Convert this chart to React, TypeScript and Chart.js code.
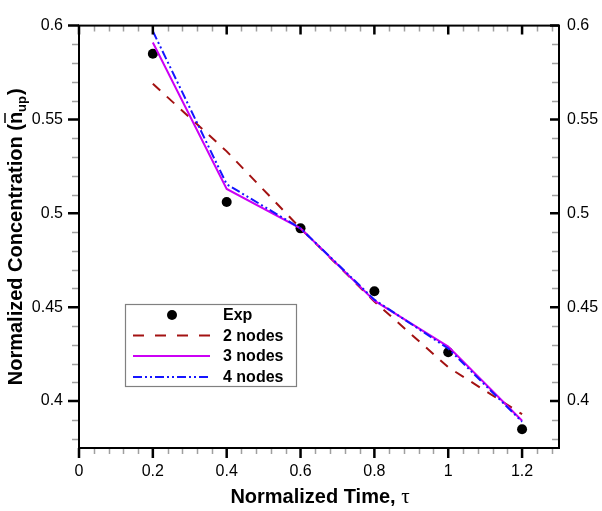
import React, { useEffect, useRef } from "react";
import { Chart, registerables } from "chart.js";

Chart.register(...registerables);

const timePoints = [0.2, 0.4, 0.6, 0.8, 1.0, 1.2];
const expValues = [0.585, 0.506, 0.492, 0.4585, 0.426, 0.385];
const nodes2Values = [0.569, 0.533, 0.492, 0.453, 0.418, 0.393];
const nodes3Values = [0.591, 0.513, 0.492, 0.4535, 0.429, 0.3895];
const nodes4Values = [0.597, 0.5155, 0.492, 0.454, 0.428, 0.389];

const seriesLabels = ["Exp", "2 nodes", "3 nodes", "4 nodes"];

const xTickValues = [0, 0.2, 0.4, 0.6, 0.8, 1, 1.2];
const xTickLabels = ["0", "0.2", "0.4", "0.6", "0.8", "1", "1.2"];
const yTickValues = [0.4, 0.45, 0.5, 0.55, 0.6];
const yTickLabels = ["0.4", "0.45", "0.5", "0.55", "0.6"];
const xMinorStep = 0.04;
const yMinorStep = 0.01;

const xTitle = "Normalized Time, ";
const xTitleSymbol = "τ";
const yTitleMain = "Normalized Concentration (";
const yTitleVar = "n";
const yTitleSub = "up";
const yTitleEnd = ")";

const FONT = "'Liberation Sans', Arial, Helvetica, sans-serif";

const toPoints = (vals: number[]) => timePoints.map((t, i) => ({ x: t, y: vals[i] }));

const decorPlugin = {
  id: "decor",
  afterDatasetsDraw(chart: any) {
    const ctx = chart.ctx as CanvasRenderingContext2D;
    const { left, right, top, bottom } = chart.chartArea;
    const xs = chart.scales.x;
    const ys = chart.scales.y;
    ctx.save();

    // minor ticks
    ctx.strokeStyle = "#a0a0a0";
    ctx.lineWidth = 1.5;
    const xMax = xs.max;
    for (let k = 1; k * xMinorStep < xMax - 1e-9; k++) {
      const v = k * xMinorStep;
      if (xTickValues.some((t) => Math.abs(t - v) < 1e-6)) continue;
      const px = Math.round(xs.getPixelForValue(v)) + 0.5;
      ctx.beginPath();
      ctx.moveTo(px, bottom);
      ctx.lineTo(px, bottom + 6);
      ctx.moveTo(px, top);
      ctx.lineTo(px, top + 6);
      ctx.stroke();
    }
    for (let k = 0; ; k++) {
      const v = Math.ceil(ys.min / yMinorStep) * yMinorStep + k * yMinorStep;
      if (v > ys.max + 1e-9) break;
      if (yTickValues.some((t) => Math.abs(t - v) < 1e-6)) continue;
      const py = Math.round(ys.getPixelForValue(v)) + 0.5;
      ctx.beginPath();
      ctx.moveTo(left, py);
      ctx.lineTo(left - 7, py);
      ctx.moveTo(right, py);
      ctx.lineTo(right - 7, py);
      ctx.stroke();
    }

    // major ticks
    ctx.strokeStyle = "#000";
    ctx.lineWidth = 2.5;
    xTickValues.forEach((v) => {
      const px = xs.getPixelForValue(v);
      ctx.beginPath();
      ctx.moveTo(px, bottom);
      ctx.lineTo(px, bottom + 10);
      ctx.moveTo(px, top);
      ctx.lineTo(px, top + 9);
      ctx.stroke();
    });
    yTickValues.forEach((v) => {
      const py = ys.getPixelForValue(v);
      ctx.beginPath();
      ctx.moveTo(left, py);
      ctx.lineTo(left - 11, py);
      ctx.moveTo(right, py);
      ctx.lineTo(right - 9, py);
      ctx.stroke();
    });

    // frame
    ctx.lineWidth = 2;
    ctx.strokeRect(left, top, right - left, bottom - top);

    // legend
    const lx = 125, ly = 304, lw = 171, lh = 82;
    ctx.fillStyle = "#fff";
    ctx.fillRect(lx, ly, lw, lh);
    ctx.strokeStyle = "#808080";
    ctx.lineWidth = 1.2;
    ctx.strokeRect(lx + 0.5, ly + 0.5, lw, lh);
    const rowY = [315, 335.5, 356, 377];
    chart.data.datasets.forEach((ds: any, i: number) => {
      const y = rowY[i];
      if (ds.showLine === false) {
        ctx.fillStyle = ds.backgroundColor;
        ctx.beginPath();
        ctx.arc(172, y, ds.pointRadius, 0, Math.PI * 2);
        ctx.fill();
      } else {
        ctx.strokeStyle = ds.borderColor;
        ctx.lineWidth = ds.borderWidth;
        ctx.setLineDash(ds.legendDash || ds.borderDash || []);
        ctx.beginPath();
        ctx.moveTo(133, y);
        ctx.lineTo(210, y);
        ctx.stroke();
        ctx.setLineDash([]);
      }
      ctx.fillStyle = "#000";
      ctx.font = `bold 16px ${FONT}`;
      ctx.textBaseline = "middle";
      ctx.textAlign = "left";
      ctx.fillText(ds.label, 223, y + 1);
    });

    ctx.restore();
  },
  afterDraw(chart: any) {
    const ctx = chart.ctx as CanvasRenderingContext2D;
    const { left, right, top, bottom } = chart.chartArea;
    ctx.save();
    ctx.fillStyle = "#000";
    ctx.textBaseline = "alphabetic";
    ctx.textAlign = "left";

    // x title
    const boldF = `bold 20px ${FONT}`;
    const symF = `21px 'Liberation Serif', 'Times New Roman', serif`;
    ctx.font = boldF;
    const w1 = ctx.measureText(xTitle).width;
    ctx.font = symF;
    const w2 = ctx.measureText(xTitleSymbol).width;
    const cx = (left + right) / 2 + 1;
    let sx = cx - (w1 + w2) / 2;
    ctx.font = boldF;
    ctx.fillText(xTitle, sx, 503);
    ctx.font = symF;
    ctx.fillText(xTitleSymbol, sx + w1, 503);

    // y title (rotated)
    const subF = `bold 13px ${FONT}`;
    ctx.font = boldF;
    const a = ctx.measureText(yTitleMain).width;
    const b = ctx.measureText(yTitleVar).width;
    ctx.font = subF;
    const c = ctx.measureText(yTitleSub).width;
    ctx.font = boldF;
    const d = ctx.measureText(yTitleEnd).width;
    const total = a + b + c + 1 + d;
    ctx.translate(22, (top + bottom) / 2);
    ctx.rotate(-Math.PI / 2);
    let p = -total / 2;
    ctx.fillText(yTitleMain, p, 0);
    p += a;
    ctx.fillText(yTitleVar, p, 0);
    ctx.lineWidth = 1.5;
    ctx.strokeStyle = "#000";
    ctx.beginPath();
    ctx.moveTo(p + 1, -17);
    ctx.lineTo(p + b - 1, -17);
    ctx.stroke();
    p += b;
    ctx.font = subF;
    ctx.fillText(yTitleSub, p, 4);
    p += c + 1;
    ctx.font = boldF;
    ctx.fillText(yTitleEnd, p, 0);
    ctx.restore();
  },
};

export default function App() {
  const ref = useRef<HTMLCanvasElement | null>(null);

  useEffect(() => {
    if (!ref.current) return;
    const tickFont = { family: FONT, size: 16 };
    const chart = new Chart(ref.current, {
      type: "line",
      data: {
        datasets: [
          {
            label: seriesLabels[0],
            data: toPoints(expValues),
            showLine: false,
            pointRadius: 5,
            pointHoverRadius: 5,
            backgroundColor: "#000",
            borderColor: "#000",
            pointBorderWidth: 0,
            order: 5,
          },
          {
            label: seriesLabels[1],
            data: toPoints(nodes2Values),
            borderColor: "#a31212",
            borderWidth: 2,
            borderDash: [10, 9],
            legendDash: [11, 11],
            pointRadius: 0,
            tension: 0,
            fill: false,
            order: 4,
          },
          {
            label: seriesLabels[2],
            data: toPoints(nodes3Values),
            borderColor: "#cc00f5",
            borderWidth: 2,
            pointRadius: 0,
            tension: 0,
            fill: false,
            order: 3,
          },
          {
            label: seriesLabels[3],
            data: toPoints(nodes4Values),
            borderColor: "#1515ff",
            borderWidth: 2,
            borderDash: [9, 3, 2, 3, 2, 3],
            pointRadius: 0,
            tension: 0,
            fill: false,
            order: 2,
          },
        ],
      },
      options: {
        responsive: false,
        devicePixelRatio: 1,
        animation: false,
        layout: { padding: 0 },
        plugins: { legend: { display: false }, tooltip: { enabled: false } },
        scales: {
          x: {
            type: "linear",
            position: "bottom",
            min: 0,
            max: 1.3,
            grid: { display: false, drawTicks: false, tickLength: 0 },
            border: { display: false },
            afterBuildTicks: (s: any) => {
              s.ticks = xTickValues.map((v) => ({ value: v }));
            },
            afterFit: (s: any) => {
              s.height = 63;
            },
            ticks: {
              padding: 14,
              color: "#000",
              font: tickFont,
              maxRotation: 0,
              autoSkip: false,
              callback: (_v: any, i: number) => xTickLabels[i],
            },
          },
          x2: {
            type: "linear",
            position: "top",
            min: 0,
            max: 1.3,
            grid: { display: false, drawTicks: false, tickLength: 0 },
            border: { display: false },
            ticks: { display: false },
            afterFit: (s: any) => {
              s.height = 11;
            },
          },
          y: {
            type: "linear",
            position: "left",
            min: 0.375,
            max: 0.6,
            grid: { display: false, drawTicks: false, tickLength: 0 },
            border: { display: false },
            afterBuildTicks: (s: any) => {
              s.ticks = yTickValues.map((v) => ({ value: v }));
            },
            afterFit: (s: any) => {
              s.width = 79;
            },
            ticks: {
              padding: 16,
              color: "#000",
              font: tickFont,
              autoSkip: false,
              callback: (_v: any, i: number) => yTickLabels[i],
            },
          },
          y2: {
            type: "linear",
            position: "right",
            min: 0.375,
            max: 0.6,
            grid: { display: false, drawTicks: false, tickLength: 0 },
            border: { display: false },
            afterBuildTicks: (s: any) => {
              s.ticks = yTickValues.map((v) => ({ value: v }));
            },
            afterFit: (s: any) => {
              s.width = 43;
            },
            ticks: {
              padding: 8,
              color: "#000",
              font: tickFont,
              autoSkip: false,
              callback: (_v: any, i: number) => yTickLabels[i],
            },
          },
        },
      } as any,
      plugins: [decorPlugin],
    });
    return () => chart.destroy();
  }, []);

  return (
    <div style={{ position: "fixed", left: 0, top: 0, width: 602, height: 511, background: "#fff" }}>
      <canvas ref={ref} width={602} height={511} style={{ width: 602, height: 511, display: "block" }} />
    </div>
  );
}
